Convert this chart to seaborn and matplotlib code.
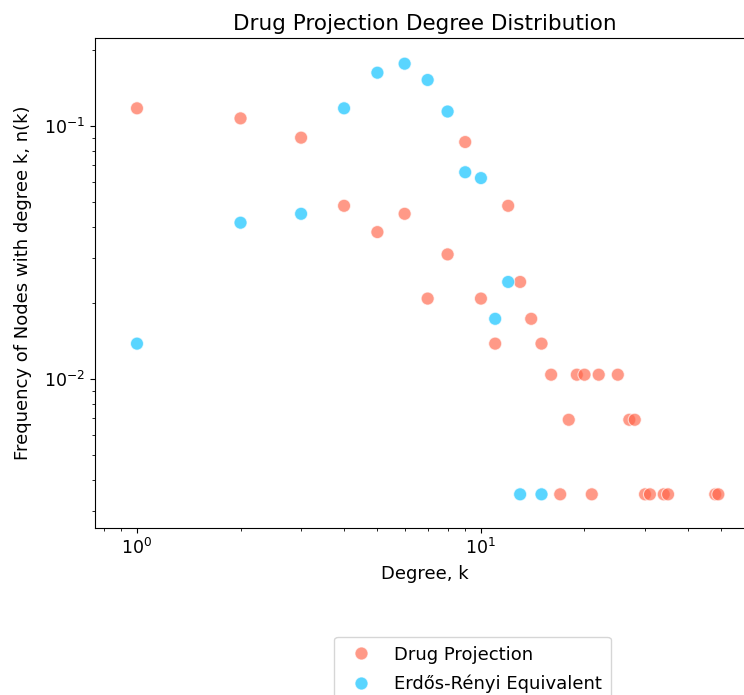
import matplotlib
matplotlib.use("Agg")
import matplotlib.pyplot as plt
import seaborn as sns
import pandas as pd

# Degree distribution of the drug projection network
drug_degree = [1, 2, 3, 4, 5, 6, 7, 8, 9, 10, 11, 12, 13, 14, 15, 16, 17, 18,
               19, 20, 21, 22, 25, 27, 28, 30, 31, 34, 35, 48, 49]
drug_freq = [0.1176, 0.1073, 0.0900, 0.0484, 0.0381, 0.0450, 0.0208, 0.0311,
             0.0865, 0.0208, 0.0138, 0.0484, 0.0242, 0.0173, 0.0138, 0.0104,
             0.0035, 0.0069, 0.0104, 0.0104, 0.0035, 0.0104, 0.0104, 0.0069,
             0.0069, 0.0035, 0.0035, 0.0035, 0.0035, 0.0035, 0.0035]

# Degree distribution of the equivalent Erdős-Rényi random graph
er_degree = [1, 2, 3, 4, 5, 6, 7, 8, 9, 10, 11, 12, 13, 15]
er_freq = [0.0138, 0.0415, 0.0450, 0.1176, 0.1626, 0.1765, 0.1522, 0.1142,
           0.0657, 0.0623, 0.0173, 0.0242, 0.0035, 0.0035]

series_names = ["Drug Projection", "Erdős-Rényi Equivalent"]
series_colors = ["tomato", "deepskyblue"]

df = pd.concat([
    pd.DataFrame({"k": drug_degree, "nk": drug_freq, "network": series_names[0]}),
    pd.DataFrame({"k": er_degree, "nk": er_freq, "network": series_names[1]}),
], ignore_index=True)

fig = plt.figure(figsize=(7.44, 6.95), dpi=100)
ax = fig.add_axes([0.1277, 0.2403, 0.8857, 0.7050])

sns.scatterplot(data=df, x="k", y="nk", hue="network",
                palette=dict(zip(series_names, series_colors)),
                s=88, alpha=0.65, edgecolor="white", linewidth=0.8,
                ax=ax, legend=True)

ax.set_xscale("log")
ax.set_yscale("log")
ax.set_xlim(0.755, 62.2)
ax.set_ylim(0.002576, 0.223)

ax.set_title("Drug Projection Degree Distribution", fontsize=15.5)
ax.set_xlabel("Degree, k", fontsize=13, labelpad=5)
ax.set_ylabel("Frequency of Nodes with degree k, n(k)", fontsize=13, labelpad=9)
ax.tick_params(labelsize=12.5)

handles, labels = ax.get_legend_handles_labels()
ax.legend(handles, labels, loc="upper left",
          bbox_to_anchor=(0.437, 0.097), bbox_transform=fig.transFigure,
          fontsize=13, markerscale=1.0, labelspacing=0.6, borderpad=0.5)

fig.savefig("out.png", dpi=100)
